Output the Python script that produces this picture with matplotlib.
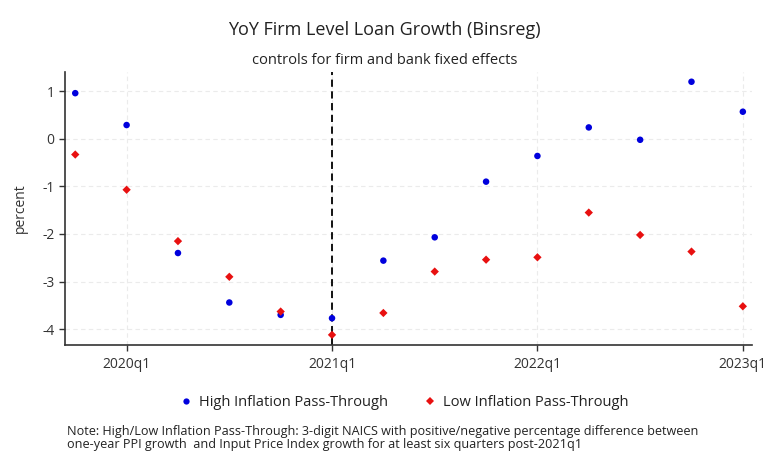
import matplotlib
matplotlib.use("Agg")
import matplotlib.pyplot as plt
from matplotlib.lines import Line2D

plt.rcParams['font.family'] = ['Open Sans', 'DejaVu Sans']

quarters = ["2019q4", "2020q1", "2020q2", "2020q3", "2020q4", "2021q1", "2021q2",
            "2021q3", "2021q4", "2022q1", "2022q2", "2022q3", "2022q4", "2023q1"]
high_pass = [0.96, 0.29, -2.40, -3.44, -3.70, -3.77, -2.56,
             -2.07, -0.90, -0.36, 0.24, -0.02, 1.20, 0.57]
low_pass = [-0.33, -1.07, -2.15, -2.90, -3.63, -4.12, -3.66,
            -2.79, -2.54, -2.49, -1.55, -2.02, -2.37, -3.52]
tick_labels = ["2020q1", "2021q1", "2022q1", "2023q1"]
y_ticks = [1, 0, -1, -2, -3, -4]
event_quarter = "2021q1"

x = list(range(len(quarters)))
tick_pos = [quarters.index(t) for t in tick_labels]

fig = plt.figure(figsize=(7.69, 4.66), dpi=100)
ax = fig.add_axes([0.0845, 0.26, 0.8935, 0.585])

for yv in y_ticks:
    ax.axhline(yv, color="#ebebeb", lw=0.8, ls=(0, (4, 3)), zorder=0)
for xv in tick_pos:
    ax.axvline(xv, color="#ebebeb", lw=0.8, ls=(0, (4, 3)), zorder=0)

ax.axvline(quarters.index(event_quarter), color="black", lw=1.3, ls=(0, (4, 2.5)), zorder=1)

ax.scatter(x, high_pass, s=22, marker="o", color="#0000dd", edgecolors="none", zorder=3)
ax.scatter(x, low_pass, s=18, marker="D", color="#e81010", edgecolors="none", zorder=3)

ax.set_xlim(-0.2, 13.18)
ax.set_ylim(-4.33, 1.4)
ax.set_xticks(tick_pos)
ax.set_xticklabels(tick_labels, fontsize=10, color="#333333")
ax.set_yticks(y_ticks)
ax.set_yticklabels([str(v) for v in y_ticks], fontsize=10, color="#333333")
ax.tick_params(axis="both", length=4, width=1, color="#333333")
ax.tick_params(axis="x", pad=5)
ax.set_ylabel("percent", fontsize=10, color="#333333", labelpad=10)

for s in ["top", "right"]:
    ax.spines[s].set_visible(False)
for s in ["left", "bottom"]:
    ax.spines[s].set_color("#333333")
    ax.spines[s].set_linewidth(1.2)

fig.text(0.5, 0.935, "YoY Firm Level Loan Growth (Binsreg)", ha="center", va="center",
         fontsize=13, color="#222222")
fig.text(0.5, 0.87, "controls for firm and bank fixed effects", ha="center", va="center",
         fontsize=10.5, color="#222222")

handles = [
    Line2D([], [], marker="o", ls="none", color="#0000dd", markersize=4.5,
           markeredgewidth=0, label="High Inflation Pass-Through"),
    Line2D([], [], marker="D", ls="none", color="#e81010", markersize=4,
           markeredgewidth=0, label="Low Inflation Pass-Through"),
]
fig.legend(handles=handles, loc="center", bbox_to_anchor=(0.525, 0.137), ncol=2,
           frameon=False, fontsize=10.5, handletextpad=0.4, columnspacing=2.4,
           handlelength=1.0, labelcolor="#222222")

fig.text(0.087, 0.06,
         "Note: High/Low Inflation Pass-Through: 3-digit NAICS with positive/negative percentage difference between\n"
         "one-year PPI growth  and Input Price Index growth for at least six quarters post-2021q1",
         ha="left", va="center", fontsize=9.1, color="#222222", linespacing=1.05)

fig.savefig("out.png", dpi=100, facecolor="white")
